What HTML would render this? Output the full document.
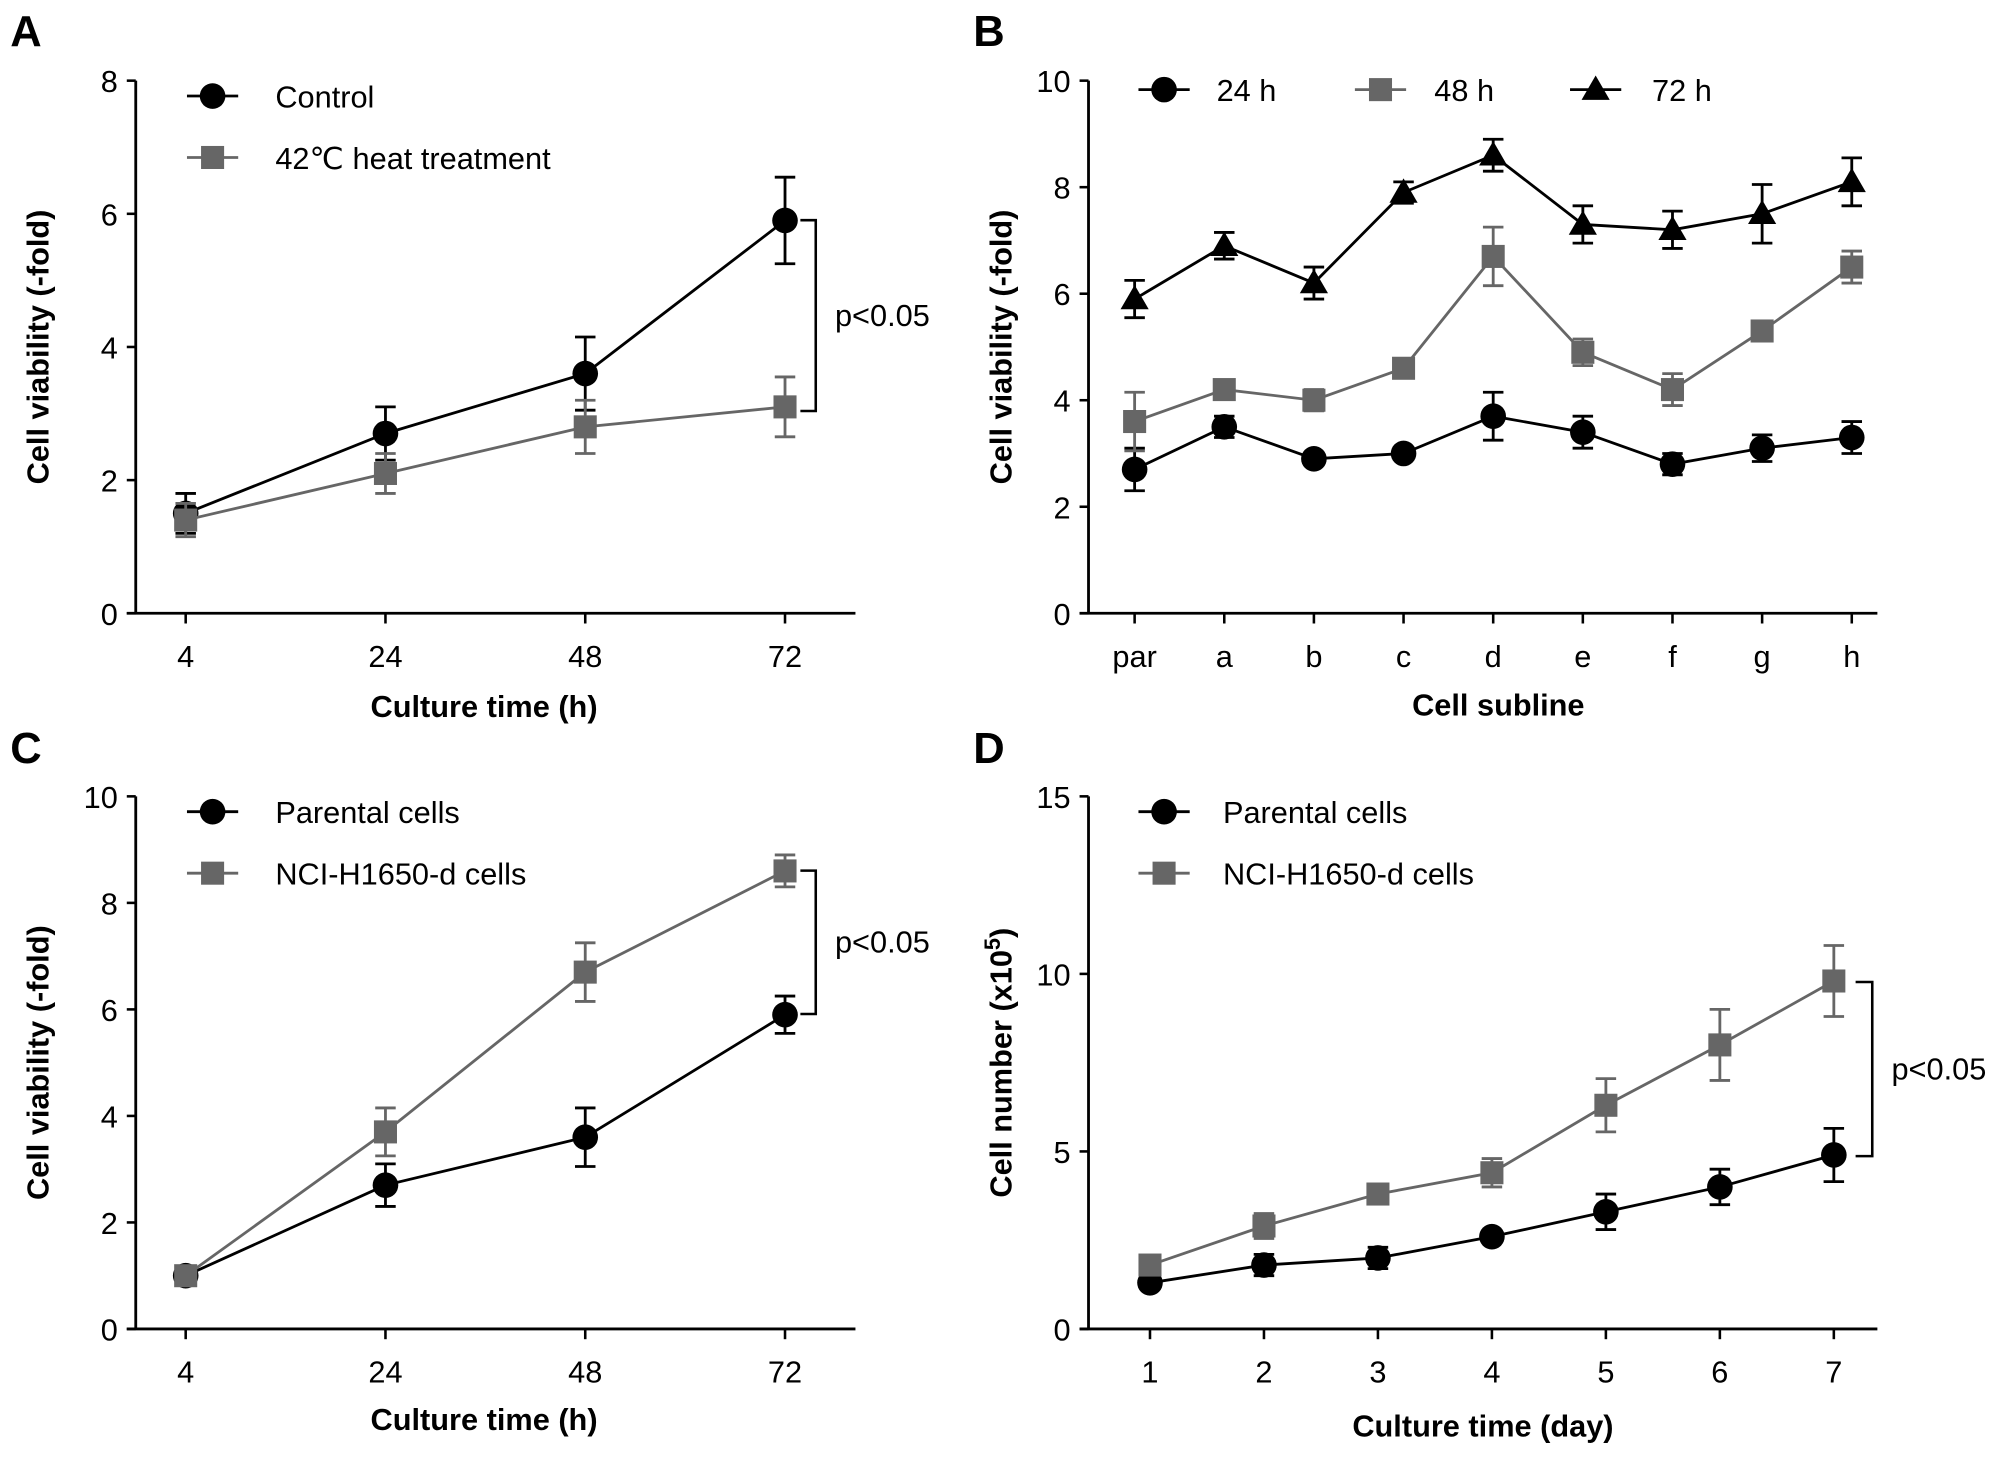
<!DOCTYPE html>
<html><head><meta charset="utf-8"><style>
html,body{margin:0;padding:0;background:#fff}
svg{display:block;font-family:"Liberation Sans",Arial,sans-serif}
</style></head><body>
<svg id="fig" width="2008" height="1457" viewBox="0 0 1568 1138" preserveAspectRatio="none" xmlns="http://www.w3.org/2000/svg"></svg>
<script>
// Panel A data
const aCats=["4","24","48","72"];
const aControl=[1.5,2.7,3.6,5.9];
const aControlErr=[0.3,0.4,0.55,0.65];
const aHeat=[1.4,2.1,2.8,3.1];
const aHeatErr=[0.25,0.3,0.4,0.45];
const aYTicks=[0,2,4,6,8];
// Panel B data
const bCats=["par","a","b","c","d","e","f","g","h"];
const b24=[2.7,3.5,2.9,3.0,3.7,3.4,2.8,3.1,3.3];
const b24Err=[0.4,0.2,0.1,0.1,0.45,0.3,0.2,0.25,0.3];
const b48=[3.6,4.2,4.0,4.6,6.7,4.9,4.2,5.3,6.5];
const b48Err=[0.55,0.15,0.2,0.1,0.55,0.25,0.3,0.15,0.3];
const b72=[5.9,6.9,6.2,7.9,8.6,7.3,7.2,7.5,8.1];
const b72Err=[0.35,0.25,0.3,0.2,0.3,0.35,0.35,0.55,0.45];
const bYTicks=[0,2,4,6,8,10];
// Panel C data
const cCats=["4","24","48","72"];
const cParental=[1.0,2.7,3.6,5.9];
const cParentalErr=[0,0.4,0.55,0.35];
const cNci=[1.0,3.7,6.7,8.6];
const cNciErr=[0,0.45,0.55,0.3];
const cYTicks=[0,2,4,6,8,10];
// Panel D data
const dCats=["1","2","3","4","5","6","7"];
const dParental=[1.3,1.8,2.0,2.6,3.3,4.0,4.9];
const dParentalErr=[0.1,0.3,0.3,0.1,0.5,0.5,0.75];
const dNci=[1.8,2.9,3.8,4.4,6.3,8.0,9.8];
const dNciErr=[0.15,0.35,0.15,0.4,0.75,1.0,1.0];
const dYTicks=[0,5,10,15];

const NS="http://www.w3.org/2000/svg";
const svg=document.getElementById('fig');
function mk(tag,attrs,parent,text){const e=document.createElementNS(NS,tag);for(const k in attrs)e.setAttribute(k,attrs[k]);if(text!==undefined)e.textContent=text;(parent||svg).appendChild(e);return e;}
const GRAY="#666";

function panel(cfg){
  const g=mk('g',{});
  
  
  const y=v=>cfg.y0-(v-cfg.ymin)/(cfg.ymax-cfg.ymin)*(cfg.y0-cfg.y1);
  const x=i=>cfg.xs0+i*cfg.dx;
  const ya=mk('line',{x1:cfg.ax,y1:cfg.y1,x2:cfg.ax,y2:cfg.y0,stroke:'#000','stroke-width':2.2},g);
  
  const xa=mk('line',{x1:cfg.ax-7,y1:cfg.y0,x2:cfg.axEnd,y2:cfg.y0,stroke:'#000','stroke-width':2.2},g);
  
  cfg.yt.forEach(v=>{
    mk('line',{x1:cfg.ax-7,y1:y(v),x2:cfg.ax,y2:y(v),stroke:'#000','stroke-width':2},g);
    const t=mk('text',{x:cfg.ax-14,y:y(v)+9,'font-size':24,'text-anchor':'end'},g,String(v));
    
  });
  cfg.cats.forEach((c,i)=>{
    mk('line',{x1:x(i),y1:cfg.y0,x2:x(i),y2:cfg.y0+8,stroke:'#000','stroke-width':2},g);
    const t=mk('text',{x:x(i),y:cfg.y0+42,'font-size':24,'text-anchor':'middle'},g,c);
    
  });
  const xt=mk('text',{x:cfg.xtx,y:cfg.xty,'font-size':24,'font-weight':'bold','text-anchor':'middle'},g,cfg.xtitle);
  
  const ytl=mk('text',{x:0,y:0,'font-size':24,'font-weight':'bold','text-anchor':'middle',transform:`translate(${cfg.ytx},${(cfg.y0+cfg.y1)/2}) rotate(-90)`},g);
  
  ytl.textContent=cfg.ytitle;
  if(cfg.sup){mk('tspan',{'font-size':17,dy:-9},ytl,cfg.sup);mk('tspan',{dy:9},ytl,')');}
  const L=mk('text',{x:cfg.lx,y:cfg.ly,'font-size':34,'font-weight':'bold'},g,cfg.letter);
  
  cfg.series.forEach(s=>{
    const sg=mk('g',{},g);
    
    
    const pts=s.vals.map((v,i)=>x(i)+','+y(v)).join(' ');
    mk('polyline',{points:pts,fill:'none',stroke:s.color,'stroke-width':2.2},sg);
    s.vals.forEach((v,i)=>{
      const e=s.err[i];
      if(e>0){
        const eb=mk('path',{d:`M${x(i)},${y(v-e)}V${y(v+e)}M${x(i)-8},${y(v+e)}H${x(i)+8}M${x(i)-8},${y(v-e)}H${x(i)+8}`,stroke:s.color,'stroke-width':2.2,fill:'none'},sg);
        
      }
      marker(sg,s.shape,x(i),y(v),s.color);
    });
  });
  cfg.legend.forEach(l=>{
    const lg=mk('g',{},g);
    
    
    mk('line',{x1:l.mx-20,y1:l.y,x2:l.mx+20,y2:l.y,stroke:l.color,'stroke-width':2.2},lg);
    marker(lg,l.shape,l.mx,l.y,l.color);
    mk('text',{x:l.tx,y:l.y+9,'font-size':24},lg,l.text);
  });
  if(cfg.br){
    const b=cfg.br;
    const bp=mk('path',{d:`M${b.x1},${b.ya}H${b.x2}V${b.yb}H${b.x1}`,stroke:'#000','stroke-width':2,fill:'none'},g);
    
    const bt=mk('text',{x:b.tx,y:(b.ya+b.yb)/2+8,'font-size':24},g,'p<0.05');
    
  }
}
function marker(p,shape,cx,cy,color){
  let m;
  if(shape==='circle')m=mk('circle',{cx,cy,r:10,fill:color},p);
  else if(shape==='square')m=mk('rect',{x:cx-9,y:cy-9,width:18,height:18,fill:color},p);
  else m=mk('path',{d:`M${cx},${cy-11}L${cx+11},${cy+8}L${cx-11},${cy+8}Z`,fill:color},p);
  
  
}

panel({name:'panel-a',letter:'A',lx:8,ly:36,ax:106,axEnd:668,y0:479,y1:63,ymin:0,ymax:8,yt:aYTicks,cats:aCats,xs0:145,dx:156,
  xtitle:'Culture time (h)',xtx:378,xty:560,ytitle:'Cell viability (-fold)',ytx:38,
  series:[{key:'control',vals:aControl,err:aControlErr,color:'#000',shape:'circle'},{key:'heat',vals:aHeat,err:aHeatErr,color:GRAY,shape:'square'}],
  legend:[{mx:166,y:75,tx:215,color:'#000',shape:'circle',text:'Control'},{mx:166,y:123,tx:215,color:GRAY,shape:'square',text:'42\u2103 heat treatment'}],
  br:{x1:625,x2:637,ya:172,yb:321,tx:652}});
panel({name:'panel-b',letter:'B',lx:760,ly:36,ax:850,axEnd:1466,y0:479,y1:63,ymin:0,ymax:10,yt:bYTicks,cats:bCats,xs0:886,dx:70,
  xtitle:'Cell subline',xtx:1170,xty:559,ytitle:'Cell viability (-fold)',ytx:790,
  series:[{key:'24h',vals:b24,err:b24Err,color:'#000',shape:'circle'},{key:'48h',vals:b48,err:b48Err,color:GRAY,shape:'square'},{key:'72h',vals:b72,err:b72Err,color:'#000',shape:'tri'}],
  legend:[{mx:909,y:70,tx:950,color:'#000',shape:'circle',text:'24 h'},{mx:1078,y:70,tx:1120,color:GRAY,shape:'square',text:'48 h'},{mx:1246,y:70,tx:1290,color:'#000',shape:'tri',text:'72 h'}]});
panel({name:'panel-c',letter:'C',lx:8,ly:596,ax:106,axEnd:668,y0:1038,y1:622,ymin:0,ymax:10,yt:cYTicks,cats:cCats,xs0:145,dx:156,
  xtitle:'Culture time (h)',xtx:378,xty:1117,ytitle:'Cell viability (-fold)',ytx:38,
  series:[{key:'parental',vals:cParental,err:cParentalErr,color:'#000',shape:'circle'},{key:'nci',vals:cNci,err:cNciErr,color:GRAY,shape:'square'}],
  legend:[{mx:166,y:634,tx:215,color:'#000',shape:'circle',text:'Parental cells'},{mx:166,y:682,tx:215,color:GRAY,shape:'square',text:'NCI-H1650-d cells'}],
  br:{x1:625,x2:637,ya:680,yb:792,tx:652}});
panel({name:'panel-d',letter:'D',lx:760,ly:596,ax:850,axEnd:1466,y0:1038,y1:622,ymin:0,ymax:15,yt:dYTicks,cats:dCats,xs0:898,dx:89,
  xtitle:'Culture time (day)',xtx:1158,xty:1122,ytitle:'Cell number (x10',sup:'5',ytx:790,
  series:[{key:'parental',vals:dParental,err:dParentalErr,color:'#000',shape:'circle'},{key:'nci',vals:dNci,err:dNciErr,color:GRAY,shape:'square'}],
  legend:[{mx:909,y:634,tx:955,color:'#000',shape:'circle',text:'Parental cells'},{mx:909,y:682,tx:955,color:GRAY,shape:'square',text:'NCI-H1650-d cells'}],
  br:{x1:1449,x2:1462,ya:767,yb:903,tx:1477}});
</script>
</body></html>
